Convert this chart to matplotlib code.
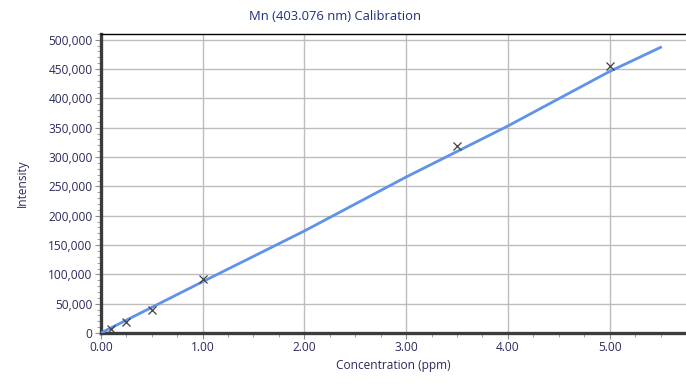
import matplotlib
matplotlib.use('Agg')
import matplotlib.pyplot as plt
from matplotlib.ticker import MultipleLocator, FuncFormatter

# calibration standards (ppm, intensity)
std_conc = [0.1, 0.25, 0.5, 1.0, 3.5, 5.0]
std_intensity = [7000, 18000, 39000, 92000, 318000, 456000]

# fitted calibration curve
fit_conc = [0.0, 1.0, 2.0, 3.0, 4.0, 5.0, 5.5]
fit_intensity = [0, 87500, 174000, 266000, 353000, 446000, 487000]

title = "Mn (403.076 nm) Calibration"
xlabel = "Concentration (ppm)"
ylabel = "Intensity"

plt.rcParams['font.family'] = ['Open Sans', 'DejaVu Sans']
text_col = "#2a2a5a"

fig = plt.figure(figsize=(6.86, 3.85), dpi=100)
ax = fig.add_axes([0.147, 0.135, 0.853, 0.777])

ax.plot(fit_conc, fit_intensity, '-', color="#5f92ea", lw=2.0, zorder=3)
ax.plot(std_conc, std_intensity, 'x', color="#404040", ms=6, mew=0.9, zorder=4)

ax.set_xlim(0, 5.75)
ax.set_ylim(0, 510000)
ax.xaxis.set_major_locator(MultipleLocator(1.0))
ax.xaxis.set_minor_locator(MultipleLocator(0.25))
ax.yaxis.set_major_locator(MultipleLocator(50000))
ax.yaxis.set_minor_locator(MultipleLocator(10000))
ax.xaxis.set_major_formatter(FuncFormatter(lambda v, p: "%.2f" % v))
ax.yaxis.set_major_formatter(FuncFormatter(lambda v, p: "{:,.0f}".format(v)))

ax.grid(True, which='major', color="#bdbdbd", lw=1.0)
ax.set_axisbelow(True)

for s in ['left', 'bottom']:
    ax.spines[s].set_linewidth(2.4)
    ax.spines[s].set_color("#3c3c3c")
ax.spines['top'].set_linewidth(1.0)
ax.spines['top'].set_color("black")
ax.spines['right'].set_visible(False)

ax.tick_params(which='major', length=4, color="#909090", labelsize=8.6, labelcolor=text_col, pad=2)
ax.tick_params(which='minor', length=3, color="#909090")

ax.set_xlabel(xlabel, fontsize=8.6, color=text_col, labelpad=3)
ax.set_ylabel(ylabel, fontsize=8.6, color=text_col, labelpad=14)
fig.text(335 / 686, 0.958, title, ha='center', va='center', fontsize=9.4, color="#1f2f80")

plt.savefig("out.png", dpi=100)
